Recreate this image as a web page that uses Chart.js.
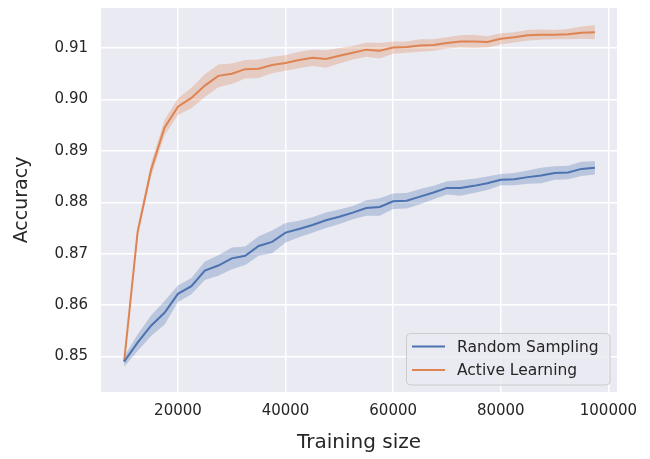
<!DOCTYPE html>
<html>
<head>
<meta charset="utf-8">
<script src="https://cdn.jsdelivr.net/npm/chart.js@4/dist/chart.umd.min.js"></script>
<style>
  html, body { margin: 0; padding: 0; background: #fff; }
  #wrap { width: 650px; height: 459px; }
</style>
</head>
<body>
<div id="wrap"><canvas id="curveChart" width="650" height="459"></canvas></div>
<script>
// --- datos ---
const trainingSize = [
    10000, 12500, 15000, 17500, 20000, 22500, 25000, 27500, 30000, 32500,
    35000, 37500, 40000, 42500, 45000, 47500, 50000, 52500, 55000, 57500,
    60000, 62500, 65000, 67500, 70000, 72500, 75000, 77500, 80000, 82500,
    85000, 87500, 90000, 92500, 95000, 97500
];
const randomMean = [
    0.8490, 0.8527, 0.8560, 0.8585, 0.8622, 0.8637, 0.8667, 0.8677, 0.8691, 0.8696,
    0.8715, 0.8723, 0.8741, 0.8748, 0.8756, 0.8765, 0.8772, 0.8780, 0.8789, 0.8791,
    0.8802, 0.8803, 0.8811, 0.8819, 0.8828, 0.8828, 0.8832, 0.8837, 0.8844, 0.8845,
    0.8849, 0.8852, 0.8857, 0.8858, 0.8865, 0.8867
];
// media ± este valor = banda sombreada
const randomSpread = [
    0.0010, 0.0016, 0.0020, 0.0023, 0.0016, 0.0016, 0.0018, 0.0020, 0.0021, 0.0018,
    0.0019, 0.0022, 0.0019, 0.0016, 0.0015, 0.0015, 0.0014, 0.0013, 0.0015, 0.0017,
    0.0015, 0.0015, 0.0015, 0.0013, 0.0013, 0.0015, 0.0014, 0.0013, 0.0011, 0.0012,
    0.0013, 0.0015, 0.0013, 0.0013, 0.0014, 0.0013
];
const activeMean = [
    0.8490, 0.8742, 0.8863, 0.8945, 0.8986, 0.9003, 0.9027, 0.9046, 0.9050, 0.9059,
    0.9060, 0.9067, 0.9071, 0.9077, 0.9081, 0.9079, 0.9085, 0.9091, 0.9097, 0.9095,
    0.9101, 0.9102, 0.9105, 0.9106, 0.9110, 0.9113, 0.9113, 0.9112, 0.9118, 0.9121,
    0.9125, 0.9126, 0.9126, 0.9127, 0.9130, 0.9131
];
const activeSpread = [
    0.0005, 0.0010, 0.0013, 0.0015, 0.0016, 0.0020, 0.0022, 0.0022, 0.0020, 0.0018,
    0.0018, 0.0016, 0.0015, 0.0016, 0.0016, 0.0017, 0.0015, 0.0013, 0.0014, 0.0015,
    0.0012, 0.0011, 0.0012, 0.0011, 0.0011, 0.0012, 0.0013, 0.0011, 0.0011, 0.0010,
    0.0010, 0.0010, 0.0009, 0.0010, 0.0012, 0.0014
];
const xTicks = [20000, 40000, 60000, 80000, 100000];
const yTicks = [0.85, 0.86, 0.87, 0.88, 0.89, 0.90, 0.91];
const seriesNames = ["Random Sampling", "Active Learning"];

const BLUE = "#4c72b0";
const ORANGE = "#dd8452";
const TEXT = "#262626";
const FONT = "'DejaVu Sans', sans-serif";

function pts(values, spread, sign) {
    return trainingSize.map((x, i) => ({ x: x, y: spread ? values[i] + sign * spread[i] : values[i] }));
}

// fondo del área de trazado (estilo seaborn)
const plotBackground = {
    id: "plotBackground",
    beforeDraw(chart) {
        const { ctx, chartArea: a } = chart;
        ctx.save();
        ctx.fillStyle = "#eaeaf2";
        ctx.fillRect(a.left, a.top, a.right - a.left, a.bottom - a.top);
        ctx.restore();
    }
};

// leyenda dentro del gráfico, abajo a la derecha
const innerLegend = {
    id: "innerLegend",
    afterDraw(chart) {
        const ctx = chart.ctx;
        const x = 406.5, y = 333.5, w = 203.5, h = 51.5, r = 4;
        ctx.save();
        ctx.beginPath();
        ctx.roundRect(x, y, w, h, r);
        ctx.fillStyle = "rgba(234,234,242,0.8)";
        ctx.fill();
        ctx.strokeStyle = "#cccccc";
        ctx.lineWidth = 1;
        ctx.stroke();
        const colors = [BLUE, ORANGE];
        ctx.font = "15.5px " + FONT;
        ctx.textBaseline = "middle";
        seriesNames.forEach((name, i) => {
            const ly = 346.5 + i * 23.5;
            ctx.beginPath();
            ctx.moveTo(412, ly);
            ctx.lineTo(445, ly);
            ctx.strokeStyle = colors[i];
            ctx.lineWidth = 2;
            ctx.stroke();
            ctx.fillStyle = TEXT;
            ctx.fillText(name, 457, ly + 1);
        });
        ctx.restore();
    }
};

const bandOpts = { borderWidth: 0, pointRadius: 0, tension: 0 };

const ctx = document.getElementById("curveChart").getContext("2d");
new Chart(ctx, {
    type: "line",
    data: {
        datasets: [
            { label: seriesNames[0], data: pts(randomMean), borderColor: BLUE, borderWidth: 2, pointRadius: 0, fill: false },
            { label: seriesNames[1], data: pts(activeMean), borderColor: ORANGE, borderWidth: 2, pointRadius: 0, fill: false },
            Object.assign({ data: pts(randomMean, randomSpread, 1), fill: "+1", backgroundColor: "rgba(76,114,176,0.3)" }, bandOpts),
            Object.assign({ data: pts(randomMean, randomSpread, -1), fill: false }, bandOpts),
            Object.assign({ data: pts(activeMean, activeSpread, 1), fill: "+1", backgroundColor: "rgba(221,132,82,0.3)" }, bandOpts),
            Object.assign({ data: pts(activeMean, activeSpread, -1), fill: false }, bandOpts)
        ]
    },
    options: {
        responsive: false,
        animation: false,
        layout: { padding: { left: 0, right: 33, top: 8, bottom: 0 } },
        plugins: {
            legend: { display: false },
            tooltip: { enabled: false }
        },
        scales: {
            x: {
                type: "linear",
                min: 5700,
                max: 101600,
                afterBuildTicks: s => { s.ticks = xTicks.map(v => ({ value: v })); },
                afterFit: s => { s.height = 67; s.paddingLeft = 0; s.paddingRight = 0; },
                ticks: { color: TEXT, font: { family: FONT, size: 15 }, padding: 10, callback: v => String(v), maxRotation: 0 },
                grid: { color: "#ffffff", lineWidth: 1.5, drawTicks: false },
                border: { display: false },
                title: { display: true, text: "Training size", color: TEXT, font: { family: FONT, size: 20 }, padding: { top: 0, bottom: 4 } }
            },
            y: {
                min: 0.8431,
                max: 0.9178,
                afterBuildTicks: s => { s.ticks = yTicks.map(v => ({ value: v })); },
                afterFit: s => { s.width = 101; s.paddingTop = 0; s.paddingBottom = 0; },
                ticks: { color: TEXT, font: { family: FONT, size: 15 }, padding: 13, callback: v => v.toFixed(2) },
                grid: { color: "#ffffff", lineWidth: 1.5, drawTicks: false },
                border: { display: false },
                title: { display: true, text: "Accuracy", color: TEXT, font: { family: FONT, size: 19 }, padding: { top: 11, bottom: 0 } }
            }
        }
    },
    plugins: [plotBackground, innerLegend]
});
</script>
</body>
</html>
